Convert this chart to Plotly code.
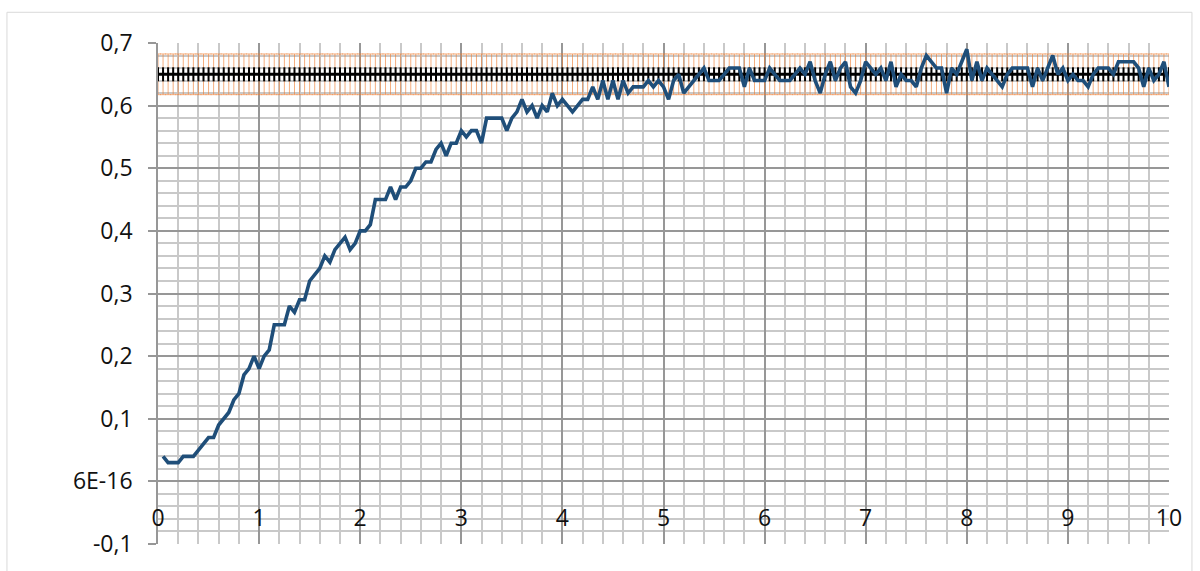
import plotly.graph_objects as go

# Sampling of the measured signal
t_step = 0.05
n_samples = 200

# Measured response (one value per sample, starting at t = 0.05)
response = [
    0.04, 0.03, 0.03, 0.03, 0.04, 0.04, 0.04, 0.05, 0.06, 0.07,
    0.07, 0.09, 0.10, 0.11, 0.13, 0.14, 0.17, 0.18, 0.20, 0.18,
    0.20, 0.21, 0.25, 0.25, 0.25, 0.28, 0.27, 0.29, 0.29, 0.32,
    0.33, 0.34, 0.36, 0.35, 0.37, 0.38, 0.39, 0.37, 0.38, 0.40,
    0.40, 0.41, 0.45, 0.45, 0.45, 0.47, 0.45, 0.47, 0.47, 0.48,
    0.50, 0.50, 0.51, 0.51, 0.53, 0.54, 0.52, 0.54, 0.54, 0.56,
    0.55, 0.56, 0.56, 0.54, 0.58, 0.58, 0.58, 0.58, 0.56, 0.58,
    0.59, 0.61, 0.59, 0.60, 0.58, 0.60, 0.59, 0.62, 0.60, 0.61,
    0.60, 0.59, 0.60, 0.61, 0.61, 0.63, 0.61, 0.64, 0.61, 0.64,
    0.61, 0.64, 0.62, 0.63, 0.63, 0.63, 0.64, 0.63, 0.64, 0.63,
    0.61, 0.64, 0.65, 0.62, 0.63, 0.64, 0.65, 0.66, 0.64, 0.64,
    0.64, 0.65, 0.66, 0.66, 0.66, 0.63, 0.66, 0.64, 0.64, 0.64,
    0.66, 0.65, 0.64, 0.64, 0.64, 0.65, 0.66, 0.65, 0.67, 0.64,
    0.62, 0.65, 0.67, 0.64, 0.66, 0.67, 0.63, 0.62, 0.64, 0.67,
    0.66, 0.65, 0.66, 0.64, 0.67, 0.63, 0.65, 0.64, 0.64, 0.63,
    0.66, 0.68, 0.67, 0.66, 0.66, 0.62, 0.66, 0.65, 0.67, 0.69,
    0.64, 0.67, 0.64, 0.66, 0.65, 0.64, 0.63, 0.65, 0.66, 0.66,
    0.66, 0.66, 0.63, 0.66, 0.64, 0.66, 0.68, 0.65, 0.66, 0.64,
    0.65, 0.64, 0.64, 0.63, 0.65, 0.66, 0.66, 0.66, 0.65, 0.67,
    0.67, 0.67, 0.67, 0.66, 0.63, 0.66, 0.64, 0.65, 0.67, 0.63,
]
response_t = [round((i + 1) * t_step, 2) for i in range(n_samples)]

# Target level with a 5 % tolerance band
target_level = 0.65
tolerance_pct = 5
target_t = [round(i * t_step, 2) for i in range(n_samples + 1)]
target = [target_level] * len(target_t)

# Axis ticks
y_tickvals = [-0.1, 0.0, 0.1, 0.2, 0.3, 0.4, 0.5, 0.6, 0.7]
y_ticktext = ["-0,1", "6E-16", "0,1", "0,2", "0,3", "0,4", "0,5", "0,6", "0,7"]
x_tickvals = [0, 1, 2, 3, 4, 5, 6, 7, 8, 9, 10]
x_ticktext = [str(v) for v in x_tickvals]

FONT = "Open Sans"
FONT_SIZE = 23
MAJOR_GRID = "#979797"
MINOR_GRID = "#c9c9c9"

fig = go.Figure()

fig.add_trace(go.Scatter(
    x=target_t, y=target, mode="lines+markers",
    line=dict(color="black", width=3),
    marker=dict(symbol="line-ns-open", size=10, color="black",
                line=dict(color="black", width=2)),
    error_y=dict(type="percent", value=tolerance_pct, symmetric=True,
                 color="rgba(237,125,49,0.62)", thickness=1, width=3),
    showlegend=False, hoverinfo="skip",
))

fig.add_trace(go.Scatter(
    x=response_t, y=response, mode="lines",
    line=dict(color="#1f4e79", width=3.6),
    showlegend=False,
))

fig.update_layout(
    width=1200, height=571,
    margin=dict(l=158, r=31, t=43, b=23),
    paper_bgcolor="white", plot_bgcolor="white",
    font=dict(family=FONT, size=FONT_SIZE, color="#111111"),
    xaxis=dict(
        range=[0, 10], tickvals=x_tickvals, ticktext=x_ticktext,
        showgrid=True, gridcolor=MAJOR_GRID, gridwidth=1.7,
        minor=dict(dtick=0.2, showgrid=True, gridcolor=MINOR_GRID, gridwidth=1.6),
        zeroline=False, showline=False, ticks="",
        anchor="free", position=0.125, ticklabelstandoff=21,
        tickfont=dict(family=FONT, size=FONT_SIZE, color="#111111"),
    ),
    yaxis=dict(
        range=[-0.1, 0.7], tickvals=y_tickvals, ticktext=y_ticktext,
        showgrid=True, gridcolor=MAJOR_GRID, gridwidth=1.7,
        minor=dict(dtick=0.02, showgrid=True, gridcolor=MINOR_GRID, gridwidth=1.6),
        zeroline=False, showline=True, linecolor=MAJOR_GRID, linewidth=1.7,
        ticks="outside", ticklen=8, tickcolor=MAJOR_GRID, tickwidth=1.7,
        ticklabelstandoff=11,
        tickfont=dict(family=FONT, size=FONT_SIZE, color="#111111"),
    ),
    shapes=[dict(
        type="rect", xref="paper", yref="paper",
        x0=-0.1494, x1=1.0227, y0=-0.07, y1=1.0613,
        line=dict(color="#d9d9d9", width=1), layer="below",
    )],
)

fig.write_html("out.html")
